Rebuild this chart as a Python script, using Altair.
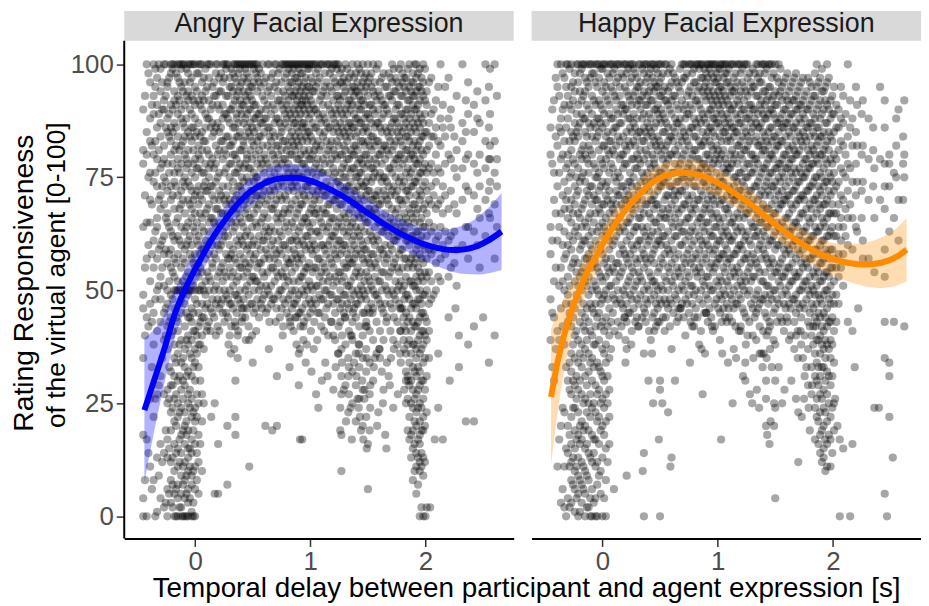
import altair as alt
import pandas as pd

# ---------------- data ----------------
# Angry panel: point columns -> (delay [s], ratings)
angry_columns = [
    (-0.45, [90, 81, 78, 64, 49, 46, 35, 18, 4, 0]),
    (-0.42, [100, 85, 80, 65, 57, 44, 17, 0]),
    (-0.39, [96, 88, 83, 76, 70, 65, 52, 47, 26, 11]),
    (-0.36, [100, 93, 89, 80, 74, 61, 55, 45, 38, 22, 8]),
    (-0.33, [97, 91, 86, 79, 73, 66, 64, 57, 50, 41, 27, 13, 1]),
    (-0.30, [99, 94, 87, 84, 77, 71, 68, 60, 53, 48, 43, 31, 16, 4]),
    (-0.27, [100, 92, 90, 82, 79, 75, 69, 62, 58, 51, 45, 39, 27, 14, 2]),
    (-0.24, [96, 95, 88, 85, 78, 72, 67, 65, 56, 50, 47, 42, 37, 28, 25, 17, 13, 6, 0]),
    (-0.21, [100, 98, 91, 86, 83, 80, 73, 70, 63, 59, 55, 49, 44, 40, 32, 29, 23, 19, 12, 8, 3]),
    (-0.18, [100, 94, 92, 87, 81, 76, 74, 68, 61, 57, 53, 50, 46, 38, 35, 31, 26, 21, 16, 10, 5, 0]),
    (-0.15, [100, 97, 93, 89, 84, 79, 77, 71, 66, 62, 58, 52, 50, 43, 41, 36, 30, 25, 22, 15, 11, 7, 4, 0]),
    (-0.12, [100, 99, 95, 90, 88, 82, 78, 72, 69, 64, 60, 55, 50, 48, 45, 39, 34, 28, 24, 18, 14, 9, 5, 2, 0]),
    (-0.09, [100, 96, 91, 86, 84, 80, 75, 73, 67, 63, 59, 56, 51, 50, 47, 42, 37, 33, 29, 23, 20, 16, 12, 8, 4, 0]),
    (-0.06, [100, 98, 94, 92, 85, 81, 78, 74, 70, 65, 61, 54, 50, 49, 44, 40, 38, 32, 27, 25, 19, 15, 13, 10, 6, 3, 0]),
    (-0.03, [100, 97, 93, 89, 86, 83, 76, 72, 68, 66, 60, 57, 52, 50, 46, 43, 39, 35, 31, 26, 22, 17, 14, 9, 7, 1, 0]),
    (0.00, [100, 95, 91, 88, 84, 79, 75, 71, 67, 63, 58, 55, 50, 48, 41, 37, 34, 30, 24, 21, 16, 11, 6, 0]),
    (0.03, [100, 98, 92, 87, 82, 80, 77, 73, 69, 62, 60, 56, 53, 50, 45, 42, 38, 33, 25, 18, 12, 5]),
    (0.06, [100, 96, 93, 90, 85, 81, 76, 70, 66, 64, 59, 54, 51, 47, 44, 40, 27, 21, 10]),
    (0.09, [99, 94, 89, 86, 83, 78, 74, 72, 67, 61, 57, 52, 49, 46]),
    (0.12, [100, 97, 92, 88, 80, 77, 75, 69, 65, 63, 58, 53, 50]),
    (0.15, [95, 91, 87, 84, 79, 73, 71, 66, 60, 56, 55, 48, 45]),
    (0.18, [100, 98, 93, 86, 82, 78, 74, 68, 64, 62, 57, 51, 47]),
    (0.21, [97, 94, 90, 85, 81, 76, 72, 70, 65, 59, 54, 50, 46]),
    (0.24, [100, 96, 91, 88, 83, 79, 73, 67, 63, 61, 56, 52, 48]),
    (0.27, [100, 99, 93, 89, 84, 80, 77, 71, 69, 64, 58, 53, 49, 45]),
    (0.30, [97, 95, 90, 87, 82, 78, 75, 70, 66, 60, 57, 55, 50, 47]),
    (0.33, [100, 98, 94, 91, 86, 83, 80, 74, 72, 68, 63, 59, 54, 51, 46]),
    (0.36, [100, 96, 93, 89, 88, 84, 79, 76, 71, 67, 65, 61, 56, 52, 49, 45]),
    (0.39, [100, 99, 95, 92, 90, 85, 81, 78, 73, 70, 66, 62, 58, 55, 50, 47]),
    (0.42, [100, 97, 94, 91, 87, 83, 82, 77, 74, 69, 64, 60, 57, 53, 48, 46]),
    (0.45, [100, 98, 96, 92, 89, 86, 80, 79, 75, 71, 68, 63, 59, 54, 51, 46]),
    (0.48, [100, 95, 93, 90, 87, 84, 81, 77, 72, 70, 66, 62, 58, 56, 52, 47]),
    (0.51, [100, 99, 96, 91, 88, 85, 82, 76, 74, 69, 67, 61, 57, 53, 50, 45]),
    (0.54, [100, 97, 94, 89, 86, 83, 78, 75, 71, 68, 64, 60, 55, 52, 48]),
    (0.57, [98, 95, 90, 87, 84, 79, 77, 73, 70, 65, 59, 56, 51, 47]),
    (0.60, [96, 92, 88, 85, 80, 76, 72, 67, 63, 61, 57, 53, 49]),
    (0.63, [100, 94, 91, 86, 82, 78, 74, 70, 66, 62, 58, 54, 50, 46]),
    (0.66, [97, 93, 89, 83, 81, 75, 71, 68, 64, 60, 55, 51, 47]),
    (0.69, [100, 95, 90, 87, 84, 79, 76, 72, 69, 63, 59, 57, 52, 48]),
    (0.72, [98, 94, 92, 88, 82, 80, 77, 73, 67, 65, 61, 56, 53, 49]),
    (0.75, [100, 96, 91, 86, 85, 81, 78, 74, 70, 66, 62, 58, 54, 50, 46]),
    (0.78, [100, 97, 93, 89, 87, 83, 79, 75, 71, 68, 64, 60, 55, 51, 47]),
    (0.81, [100, 99, 95, 92, 90, 86, 82, 78, 76, 72, 67, 63, 59, 56, 52, 48]),
    (0.84, [100, 98, 96, 93, 88, 85, 83, 80, 75, 73, 69, 65, 61, 57, 54, 50, 46]),
    (0.87, [100, 97, 94, 91, 89, 87, 84, 81, 77, 74, 70, 66, 62, 58, 55, 50, 47]),
    (0.90, [100, 99, 96, 93, 90, 88, 85, 82, 79, 76, 71, 68, 63, 60, 56, 52, 49, 45]),
    (0.93, [100, 98, 95, 92, 91, 87, 86, 83, 78, 75, 72, 69, 65, 61, 57, 53, 50, 46]),
    (0.96, [100, 97, 94, 92, 89, 86, 84, 80, 77, 73, 70, 66, 62, 59, 55, 51, 47]),
    (0.99, [100, 99, 95, 93, 90, 88, 85, 81, 79, 74, 71, 67, 64, 60, 56, 52, 48]),
    (1.02, [100, 96, 94, 91, 87, 83, 80, 76, 72, 69, 65, 61, 58, 54, 50, 46]),
    (1.05, [100, 98, 95, 90, 86, 82, 78, 75, 71, 67, 63, 59, 55, 51, 47]),
    (1.08, [100, 97, 92, 88, 85, 81, 77, 73, 70, 66, 62, 57, 53, 49, 45]),
    (1.11, [100, 94, 91, 89, 84, 79, 76, 72, 68, 64, 60, 56, 52, 48]),
    (1.14, [100, 96, 93, 87, 83, 80, 74, 71, 67, 63, 58, 54, 50, 46]),
    (1.17, [100, 98, 95, 90, 86, 82, 78, 73, 69, 65, 61, 57, 53, 49]),
    (1.20, [100, 97, 92, 88, 85, 81, 77, 75, 70, 66, 62, 59, 55, 51, 47]),
    (1.23, [100, 99, 95, 93, 89, 86, 83, 79, 74, 71, 68, 64, 60, 57, 52, 48]),
    (1.26, [98, 96, 92, 90, 87, 84, 80, 76, 73, 69, 66, 61, 58, 54, 50, 46]),
    (1.29, [97, 95, 93, 88, 85, 82, 78, 75, 72, 67, 63, 60, 56, 53, 49, 45]),
    (1.32, [99, 96, 91, 89, 86, 83, 79, 77, 73, 70, 65, 62, 58, 55, 51, 47]),
    (1.35, [98, 94, 92, 90, 87, 84, 81, 76, 74, 71, 68, 64, 59, 56, 52, 48]),
    (1.38, [97, 95, 93, 89, 86, 82, 80, 77, 72, 69, 66, 62, 60, 57, 53, 49, 46]),
    (1.41, [100, 96, 94, 91, 88, 85, 81, 78, 75, 73, 70, 67, 63, 59, 55, 50, 47]),
    (1.44, [98, 95, 92, 90, 87, 83, 79, 76, 74, 71, 68, 64, 61, 58, 54, 51, 48]),
    (1.47, [97, 94, 91, 88, 86, 82, 80, 77, 73, 70, 66, 63, 59, 56, 52, 49, 45]),
    (1.50, [100, 96, 93, 89, 85, 83, 78, 75, 72, 68, 65, 61, 57, 53, 50, 46]),
    (1.53, [98, 95, 91, 87, 84, 81, 77, 74, 70, 67, 62, 58, 55, 51, 47]),
    (1.56, [96, 93, 89, 86, 82, 79, 76, 71, 68, 64, 60, 56, 53, 49]),
    (1.59, [100, 94, 90, 87, 83, 80, 75, 72, 69, 65, 61, 57, 52, 48]),
    (1.62, [97, 92, 88, 85, 81, 78, 74, 70, 66, 63, 59, 54, 50, 46]),
    (1.65, [95, 91, 86, 82, 79, 75, 71, 67, 64, 60, 56, 51, 47]),
    (1.68, [98, 93, 89, 84, 80, 77, 73, 69, 65, 62, 58, 53, 49]),
    (1.71, [100, 96, 92, 87, 85, 81, 76, 72, 68, 63, 59, 55, 50, 46]),
    (1.74, [97, 94, 90, 88, 83, 79, 75, 71, 67, 64, 61, 57, 52, 48]),
    (1.77, [99, 95, 91, 86, 84, 80, 77, 74, 70, 66, 62, 58, 54, 51, 47]),
    (1.80, [98, 96, 93, 89, 85, 82, 78, 73, 69, 65, 63, 59, 55, 50, 46]),
    (1.83, [97, 94, 90, 87, 84, 81, 76, 72, 70, 66, 61, 57, 53, 49, 45, 41, 36, 30, 25]),
    (1.86, [100, 95, 92, 88, 86, 83, 79, 75, 71, 68, 64, 60, 56, 52, 48, 44, 39, 34, 29, 22, 17]),
    (1.89, [98, 96, 93, 91, 87, 82, 80, 77, 73, 69, 66, 62, 58, 55, 51, 47, 43, 38, 33, 28, 24, 19, 15, 8]),
    (1.92, [100, 97, 94, 90, 88, 85, 81, 78, 74, 71, 67, 63, 59, 57, 53, 50, 46, 42, 37, 35, 31, 27, 23, 20, 14, 11, 5]),
    (1.95, [99, 95, 92, 89, 86, 83, 79, 76, 72, 70, 65, 61, 58, 54, 50, 48, 44, 40, 36, 32, 29, 25, 21, 18, 16, 12, 10, 0]),
    (1.98, [100, 96, 93, 87, 84, 80, 77, 73, 68, 64, 60, 56, 52, 49, 45, 41, 38, 34, 30, 26, 22, 19, 13, 9, 0]),
    (2.01, [94, 91, 85, 81, 76, 72, 67, 62, 57, 53, 50, 43, 39, 31, 23, 2]),
    (2.05, [97, 89, 84, 78, 73, 69, 63, 58, 52, 48]),
    (2.09, [92, 86, 80, 74, 68, 61, 56, 50]),
    (2.13, [100, 88, 82, 76, 70, 64, 57, 52]),
    (2.17, [95, 84, 78, 71, 63, 58]),
    (2.22, [90, 86, 79, 72, 62, 55]),
    (2.27, [93, 81, 75, 67, 59, 51]),
    (2.32, [100, 87, 83, 77, 70, 60]),
    (2.37, [96, 89, 80, 72, 64, 57]),
    (2.42, [91, 85, 78, 71, 63]),
    (2.47, [87, 80, 73, 66, 55]),
    (2.52, [100, 92, 83, 77, 70, 62]),
    (2.56, [99, 89, 82, 79, 74, 66]),
    (2.60, [100, 83, 76, 69, 57]),
]
# Angry panel: points lying between the columns above
angry_fill = [
    (-0.435, [93, 71, 55, 40, 8]),
    (-0.405, [98, 75, 60, 42, 14]),
    (-0.375, [91, 82, 69, 58, 43, 33, 6]),
    (-0.345, [99, 95, 83, 76, 63, 48, 26, 0]),
    (-0.315, [100, 89, 81, 70, 59, 51, 29, 9]),
    (-0.285, [96, 90, 78, 73, 61, 55, 35, 12]),
    (-0.255, [100, 93, 86, 74, 66, 59, 46, 40, 19, 3]),
    (-0.225, [97, 89, 84, 76, 64, 58, 52, 43, 33, 26, 15, 5]),
    (-0.195, [100, 99, 90, 85, 78, 71, 62, 54, 48, 41, 29, 24, 13, 7, 2]),
    (-0.165, [98, 91, 86, 82, 73, 65, 56, 50, 44, 34, 27, 20, 14, 6, 0]),
    (-0.135, [100, 96, 92, 81, 76, 68, 61, 50, 47, 38, 31, 23, 17, 12, 2]),
    (-0.105, [100, 94, 87, 83, 74, 70, 57, 52, 49, 35, 30, 26, 19, 11, 7, 0]),
    (-0.075, [99, 93, 88, 79, 77, 64, 60, 53, 50, 45, 39, 31, 21, 18, 9, 5, 0]),
    (-0.045, [100, 96, 90, 84, 73, 69, 62, 58, 50, 44, 36, 28, 24, 15, 11, 4]),
    (-0.015, [100, 92, 86, 81, 78, 70, 64, 56, 51, 45, 41, 33, 23, 19, 10, 3, 0]),
    (0.015, [98, 94, 85, 77, 72, 65, 61, 54, 47, 40, 36, 27, 22, 14, 8]),
    (0.045, [100, 91, 84, 79, 71, 67, 58, 55, 50, 43, 38, 30, 16]),
    (0.075, [97, 92, 83, 76, 73, 63, 59, 50, 44, 37, 25]),
    (0.105, [100, 95, 88, 81, 72, 68, 60, 54, 47, 42]),
    (0.135, [100, 90, 86, 78, 73, 66, 61, 52, 46, 41]),
    (0.165, [96, 93, 85, 77, 70, 65, 58, 50, 44]),
    (0.195, [100, 91, 87, 80, 75, 68, 60, 53, 48, 42]),
    (0.225, [98, 94, 86, 83, 71, 67, 60, 55, 47]),
    (0.255, [100, 97, 89, 81, 76, 70, 62, 54, 50, 43]),
    (0.285, [100, 93, 88, 84, 73, 67, 62, 57, 48, 44]),
    (0.315, [99, 95, 90, 82, 78, 69, 65, 58, 53, 47, 42]),
    (0.345, [100, 97, 92, 86, 80, 76, 70, 64, 57, 49, 43]),
    (0.375, [100, 98, 94, 87, 84, 77, 73, 68, 60, 53, 48, 41]),
    (0.405, [100, 96, 91, 89, 81, 75, 72, 65, 61, 55, 46, 43]),
    (0.435, [100, 99, 93, 88, 84, 78, 70, 67, 62, 56, 50, 44]),
    (0.465, [100, 97, 94, 90, 85, 77, 74, 66, 60, 55, 49, 42]),
    (0.495, [100, 95, 92, 86, 83, 79, 72, 64, 60, 53, 47, 40]),
    (0.525, [100, 98, 91, 88, 80, 75, 71, 65, 58, 52, 46]),
    (0.555, [99, 96, 89, 84, 81, 73, 69, 62, 56, 50, 44]),
    (0.585, [100, 93, 87, 82, 78, 71, 66, 61, 54, 48]),
    (0.615, [97, 90, 88, 79, 74, 69, 64, 59, 51, 45]),
    (0.645, [100, 95, 86, 84, 77, 72, 63, 57, 49, 43]),
    (0.675, [98, 91, 85, 80, 73, 68, 61, 55, 48]),
    (0.705, [100, 96, 88, 82, 78, 70, 66, 58, 54, 46]),
    (0.735, [99, 92, 87, 84, 75, 71, 63, 59, 50, 44]),
    (0.765, [100, 94, 90, 83, 79, 73, 67, 60, 53, 48, 42]),
    (0.795, [100, 98, 91, 88, 81, 77, 70, 65, 57, 53, 45]),
    (0.825, [100, 96, 94, 89, 84, 80, 74, 68, 61, 56, 49, 43]),
    (0.855, [100, 99, 93, 90, 87, 82, 76, 72, 64, 59, 52, 47, 41]),
    (0.885, [100, 97, 95, 92, 86, 83, 79, 73, 67, 61, 57, 48, 44]),
    (0.915, [100, 98, 94, 91, 89, 84, 80, 75, 69, 64, 58, 53, 45, 42]),
    (0.945, [100, 96, 93, 90, 87, 81, 78, 71, 66, 60, 54, 49, 43]),
    (0.975, [100, 99, 95, 91, 85, 83, 76, 73, 65, 62, 55, 50, 44]),
    (1.005, [100, 97, 92, 89, 84, 79, 74, 68, 63, 59, 51, 47, 41]),
    (1.035, [100, 94, 90, 86, 81, 77, 70, 67, 60, 55, 48, 43]),
    (1.065, [99, 96, 89, 83, 79, 72, 68, 63, 57, 51, 45]),
    (1.095, [100, 93, 87, 82, 76, 73, 65, 60, 54, 48, 42]),
    (1.125, [98, 95, 88, 85, 78, 71, 67, 59, 55, 50, 44]),
    (1.155, [100, 91, 86, 81, 76, 69, 64, 60, 52, 47, 40]),
    (1.185, [99, 94, 89, 83, 79, 72, 66, 62, 56, 49, 43]),
    (1.215, [100, 96, 90, 87, 80, 76, 70, 63, 58, 53, 45, 39]),
    (1.245, [100, 93, 91, 85, 82, 74, 71, 65, 61, 54, 48, 42, 36]),
    (1.275, [99, 96, 89, 86, 80, 77, 69, 64, 59, 52, 47, 40, 34]),
    (1.305, [100, 94, 90, 84, 81, 75, 72, 66, 60, 55, 49, 44, 38, 29]),
    (1.335, [97, 92, 87, 85, 79, 73, 67, 63, 57, 51, 46, 41, 33, 27]),
    (1.365, [100, 95, 91, 86, 80, 77, 70, 65, 61, 56, 50, 43, 39, 32, 25]),
    (1.395, [98, 94, 88, 84, 82, 75, 72, 64, 58, 54, 47, 44, 36, 29, 21]),
    (1.425, [99, 93, 90, 87, 79, 76, 69, 66, 62, 53, 49, 42, 38, 33, 26]),
    (1.455, [100, 96, 92, 85, 83, 78, 73, 67, 60, 57, 50, 45, 40, 35, 28, 20]),
    (1.485, [98, 95, 89, 86, 80, 74, 71, 65, 59, 54, 48, 43, 37, 32, 22]),
    (1.515, [97, 91, 88, 82, 79, 72, 68, 63, 56, 52, 45, 41, 34, 27, 19]),
    (1.545, [100, 94, 90, 84, 77, 75, 70, 61, 58, 50, 46, 39, 30]),
    (1.575, [99, 92, 87, 83, 78, 71, 67, 62, 55, 49, 43, 36]),
    (1.605, [96, 93, 86, 80, 76, 69, 65, 59, 52, 47, 41, 35]),
    (1.635, [98, 91, 89, 82, 75, 72, 63, 58, 54, 45, 39, 28]),
    (1.665, [95, 90, 85, 81, 74, 70, 64, 57, 50, 44, 34]),
    (1.695, [97, 93, 86, 83, 77, 71, 66, 60, 54, 47, 41]),
    (1.725, [99, 94, 88, 82, 78, 73, 65, 61, 56, 49, 44, 37]),
    (1.755, [96, 91, 87, 85, 79, 72, 68, 62, 55, 50, 43, 38]),
    (1.785, [100, 93, 89, 83, 80, 75, 70, 64, 59, 52, 46, 41, 34]),
    (1.815, [97, 95, 88, 86, 79, 74, 67, 63, 57, 51, 48, 42, 37, 28]),
    (1.845, [99, 92, 90, 84, 81, 77, 72, 65, 61, 55, 49, 43, 38, 31, 26, 19]),
    (1.875, [96, 94, 89, 85, 80, 76, 73, 67, 62, 57, 52, 46, 41, 36, 30, 25, 18, 13]),
    (1.905, [100, 93, 90, 86, 83, 79, 74, 69, 65, 61, 56, 51, 47, 42, 38, 32, 26, 21, 16, 10]),
    (1.935, [98, 95, 91, 87, 82, 78, 75, 68, 63, 60, 55, 52, 48, 43, 39, 33, 28, 24, 17, 13, 7]),
    (1.965, [97, 94, 88, 84, 81, 76, 71, 66, 62, 57, 53, 47, 45, 41, 37, 30, 24, 19, 14, 11, 2]),
    (1.995, [99, 92, 89, 85, 78, 74, 69, 64, 59, 54, 49, 44, 40, 35, 28, 20, 12]),
    (2.03, [96, 87, 82, 77, 70, 65, 59, 54, 47, 41, 35]),
    (2.07, [90, 84, 76, 71, 64, 59, 49]),
    (2.11, [95, 83, 77, 69, 62, 53]),
    (2.15, [91, 86, 73, 67, 60]),
    (2.20, [97, 88, 80, 68, 61, 53]),
    (2.25, [84, 77, 69, 63, 56]),
    (2.35, [92, 85, 79, 73, 64]),
    (2.45, [94, 88, 76, 68, 60]),
    (2.55, [95, 86, 79, 72, 67]),
    (2.62, [93, 79, 73, 64]),
]
# Angry panel: scattered lower-rating points
angry_low_x = [0.10, 0.21, 0.30, 0.37, 0.44, 0.34, 0.31, 0.37, 0.50, 0.35, 0.28, 0.47, 0.28, 0.35, 0.35,
               0.17, 0.14, 0.20, 0.17, 0.20, 0.61, 0.67, 0.71, 0.71, 0.83, 0.87, 0.94, 0.91, 0.90, 0.96,
               1.03, 1.01, 1.10, 1.07, 0.91, 0.93, 1.13, 1.20, 1.26, 1.27, 1.33, 1.27, 1.33, 1.40, 1.45,
               1.47, 1.47, 1.42, 1.52, 1.35, 1.26, 1.20, 1.27, 1.33, 1.43, 1.59, 1.26, 1.27, 1.36, 1.46,
               1.49, 1.50, 1.65, 1.66, 1.27, 1.50, 1.42, 1.35, 1.37, 1.49, 1.49, 1.55, 1.62, 1.60, 1.69,
               1.70, 1.78, 1.81, 1.83, 1.85, 1.78, 1.81, 2.11, 2.11, 2.08, 2.15, 2.21, 2.26, 2.29, 2.37,
               2.29, 2.35, 2.42, 2.55, 2.04, 2.00, 2.42, 2.50, 2.20, 2.60,
               0.12, 0.18, 0.24, 0.29, 0.35, 0.41, 0.47, 0.53, 0.58, 0.64, 0.70, 0.76, 0.82, 0.88, 0.94,
               1.00, 1.06, 1.12, 1.18, 1.24, 1.30, 1.36, 1.42, 1.48, 1.54, 1.60, 1.66, 1.72, 1.78,
               0.82, 0.90, 0.97, 1.05, 1.15, 1.22, 1.29, 1.31, 1.38, 1.41, 1.44, 1.52, 1.56, 1.58, 1.63,
               1.68, 1.72, 1.76]
angry_low_y = [41, 41, 40, 40, 39, 37, 36, 35, 34, 30, 7, 11, 20, 18, 22,
               25, 22, 16, 5, 5, 20, 19, 20, 31, 42, 44, 39, 37, 36, 34,
               37, 32, 30, 24, 17, 17, 34, 40, 43, 37, 35, 31, 31, 31, 30,
               28, 26, 24, 24, 24, 24, 28, 27, 23, 22, 23, 19, 18, 17, 17,
               15, 16, 18, 15, 10, 6, 36, 40, 45, 42, 35, 33, 32, 37, 29,
               35, 36, 39, 32, 30, 46, 44, 36, 24, 17, 17, 30, 46, 40, 38,
               33, 21, 21, 34, 2, 0, 42, 44, 44, 40,
               43, 40, 45, 38, 42, 44, 39, 41, 46, 37, 43, 40, 44, 38, 42,
               45, 39, 41, 43, 36, 44, 40, 38, 42, 45, 37, 43, 39, 41,
               33, 29, 38, 27, 31, 33, 28, 21, 34, 26, 19, 29, 35, 20, 25,
               31, 24, 27]

# Happy panel: point columns -> (delay [s], ratings)
happy_columns = [
    (-0.45, [86, 80, 64, 58, 48, 39]),
    (-0.42, [92, 76, 70, 52, 44, 30]),
    (-0.39, [100, 95, 82, 73, 61, 41, 11]),
    (-0.36, [100, 88, 85, 79, 67, 55, 46, 20, 3]),
    (-0.33, [97, 91, 83, 74, 68, 63, 57, 50, 38, 23, 11, 2]),
    (-0.30, [100, 93, 88, 80, 78, 72, 66, 60, 53, 49, 43, 30, 20, 14, 4]),
    (-0.27, [100, 95, 90, 85, 81, 76, 70, 65, 59, 55, 47, 42, 36, 32, 27, 22, 16, 12, 8, 3]),
    (-0.24, [98, 94, 87, 83, 78, 73, 69, 63, 57, 52, 46, 40, 35, 29, 24, 19, 15, 10, 6, 1]),
    (-0.21, [100, 96, 91, 86, 84, 77, 72, 67, 62, 56, 51, 48, 39, 34, 28, 23, 18, 13, 9, 5, 0]),
    (-0.18, [100, 99, 92, 89, 81, 79, 75, 68, 64, 60, 54, 50, 45, 38, 33, 27, 21, 17, 12, 7, 3]),
    (-0.15, [100, 97, 94, 88, 85, 80, 74, 70, 65, 61, 57, 52, 44, 41, 37, 31, 26, 20, 15, 10, 5, 0]),
    (-0.12, [100, 95, 90, 87, 82, 78, 76, 71, 66, 62, 58, 53, 49, 43, 36, 32, 25, 19, 14, 8, 2]),
    (-0.09, [100, 98, 93, 89, 84, 80, 73, 69, 63, 59, 55, 50, 46, 40, 35, 30, 24, 18, 12, 6, 0]),
    (-0.06, [100, 96, 91, 86, 83, 77, 75, 70, 67, 61, 56, 51, 47, 42, 38, 29, 23, 17, 11, 4, 0]),
    (-0.03, [100, 97, 92, 88, 85, 81, 76, 72, 68, 64, 60, 54, 49, 45, 39, 33, 28, 22, 16, 9]),
    (0.00, [100, 99, 94, 90, 86, 82, 78, 74, 69, 65, 62, 58, 52, 48, 43, 37, 31, 26, 20, 13, 0]),
    (0.03, [100, 95, 93, 87, 84, 79, 73, 71, 66, 63, 57, 53, 50, 44, 38, 34, 27, 21, 15, 8, 0]),
    (0.06, [100, 97, 91, 89, 83, 80, 76, 72, 67, 61, 59, 54, 51, 46, 40, 35, 28, 22, 16]),
    (0.09, [100, 98, 94, 88, 85, 81, 77, 70, 68, 64, 60, 55, 49, 45]),
    (0.12, [100, 96, 92, 90, 86, 82, 74, 72, 69, 65, 62, 56, 52, 47]),
    (0.15, [100, 95, 93, 87, 83, 79, 75, 71, 66, 63, 58, 53, 48]),
    (0.18, [100, 97, 91, 89, 84, 80, 77, 73, 68, 64, 59, 55, 50, 46]),
    (0.21, [100, 98, 94, 90, 85, 81, 78, 72, 70, 65, 61, 57, 51, 47]),
    (0.24, [100, 96, 92, 88, 86, 82, 76, 74, 69, 66, 62, 58, 53, 49, 45]),
    (0.27, [100, 99, 93, 89, 87, 83, 79, 75, 71, 67, 63, 59, 54, 50, 46]),
    (0.30, [97, 95, 91, 88, 84, 80, 77, 73, 70, 64, 60, 56, 52, 48]),
    (0.33, [100, 96, 92, 90, 85, 81, 78, 74, 68, 66, 61, 57, 53, 49]),
    (0.36, [100, 98, 94, 89, 86, 83, 79, 75, 72, 67, 63, 58, 55, 50, 46]),
    (0.39, [100, 97, 93, 91, 87, 84, 80, 76, 73, 69, 64, 60, 56, 51, 47]),
    (0.42, [100, 99, 95, 92, 88, 85, 82, 77, 74, 70, 66, 62, 57, 53, 48]),
    (0.45, [100, 96, 94, 90, 86, 83, 79, 78, 71, 68, 65, 59, 56, 52, 49, 45]),
    (0.48, [100, 98, 95, 91, 89, 84, 81, 75, 72, 69, 63, 61, 54, 50, 46]),
    (0.51, [100, 97, 93, 90, 87, 82, 80, 76, 73, 67, 64, 60, 57, 51, 47]),
    (0.54, [100, 95, 92, 88, 85, 81, 77, 74, 70, 66, 62, 58, 53, 48]),
    (0.57, [98, 94, 91, 86, 83, 79, 75, 71, 68, 63, 59, 55, 50, 46]),
    (0.60, [100, 96, 92, 89, 84, 80, 76, 73, 69, 65, 61, 56, 52, 47]),
    (0.63, [97, 93, 88, 85, 81, 78, 72, 70, 66, 62, 57, 53, 49]),
    (0.66, [95, 90, 87, 82, 77, 74, 71, 67, 64, 58, 54, 50, 46]),
    (0.69, [100, 96, 92, 86, 83, 79, 75, 72, 68, 63, 60, 55, 51, 47]),
    (0.72, [100, 97, 91, 88, 84, 81, 76, 73, 69, 65, 61, 56, 52, 48]),
    (0.75, [100, 94, 89, 85, 82, 78, 74, 70, 66, 62, 59, 53, 49, 45]),
    (0.78, [100, 98, 93, 90, 86, 80, 77, 71, 67, 64, 60, 57, 51, 47]),
    (0.81, [100, 96, 92, 87, 84, 81, 75, 73, 68, 63, 58, 54, 50, 46]),
    (0.84, [100, 99, 95, 91, 88, 83, 79, 76, 70, 66, 62, 59, 55, 48]),
    (0.87, [100, 97, 94, 89, 85, 82, 78, 74, 71, 67, 64, 60, 56, 52, 47]),
    (0.90, [100, 98, 96, 92, 87, 84, 80, 77, 73, 69, 65, 61, 57, 53, 49, 45]),
    (0.93, [100, 99, 95, 93, 90, 86, 83, 79, 75, 72, 68, 63, 59, 55, 51, 46]),
    (0.96, [100, 97, 94, 91, 88, 85, 81, 78, 74, 70, 66, 62, 58, 54, 50]),
    (0.99, [100, 98, 96, 92, 89, 87, 82, 80, 76, 71, 67, 64, 60, 56, 52, 48]),
    (1.02, [100, 99, 95, 93, 90, 86, 84, 79, 75, 73, 69, 65, 61, 57, 53, 49, 45]),
    (1.05, [100, 97, 94, 91, 88, 85, 81, 77, 74, 70, 66, 62, 58, 55, 50, 46]),
    (1.08, [100, 98, 96, 92, 89, 86, 83, 78, 76, 71, 68, 63, 59, 56, 52, 47]),
    (1.11, [100, 95, 93, 90, 87, 83, 80, 77, 72, 69, 65, 61, 57, 53, 49]),
    (1.14, [100, 97, 94, 91, 86, 84, 79, 75, 73, 70, 66, 62, 58, 54, 50, 46]),
    (1.17, [100, 96, 92, 88, 85, 82, 78, 74, 71, 67, 63, 59, 55, 51, 47]),
    (1.20, [100, 98, 94, 89, 87, 83, 80, 76, 72, 68, 64, 60, 56, 52, 48]),
    (1.23, [100, 95, 92, 90, 86, 81, 77, 73, 70, 66, 61, 57, 53, 50, 45]),
    (1.26, [100, 97, 93, 88, 84, 82, 78, 75, 71, 67, 63, 58, 54, 49]),
    (1.29, [96, 94, 91, 87, 85, 80, 76, 72, 69, 65, 60, 56, 52, 47]),
    (1.32, [98, 95, 90, 88, 83, 79, 77, 73, 68, 64, 62, 57, 53, 48]),
    (1.35, [100, 97, 93, 89, 86, 82, 78, 74, 70, 67, 63, 59, 55, 50, 46]),
    (1.38, [100, 96, 92, 90, 87, 83, 80, 76, 72, 68, 65, 61, 57, 52, 48]),
    (1.41, [100, 98, 94, 91, 88, 84, 81, 77, 73, 71, 66, 62, 58, 54, 49, 45]),
    (1.44, [100, 95, 93, 89, 85, 82, 79, 75, 72, 68, 64, 60, 56, 51, 47]),
    (1.47, [100, 97, 92, 90, 86, 83, 80, 76, 73, 69, 65, 61, 57, 53, 48]),
    (1.50, [100, 94, 91, 88, 84, 81, 77, 74, 70, 67, 63, 59, 54, 50, 46]),
    (1.53, [100, 96, 93, 87, 85, 82, 78, 75, 71, 68, 64, 60, 55, 52, 47]),
    (1.56, [95, 92, 89, 86, 83, 79, 76, 72, 69, 65, 61, 57, 53, 49]),
    (1.59, [97, 93, 90, 87, 84, 80, 77, 73, 70, 66, 62, 58, 54, 50, 46]),
    (1.62, [94, 91, 88, 85, 81, 78, 74, 71, 67, 63, 59, 55, 51, 47]),
    (1.65, [96, 92, 89, 86, 82, 79, 75, 72, 68, 64, 60, 56, 52, 48]),
    (1.68, [98, 93, 90, 87, 83, 80, 76, 73, 69, 65, 61, 57, 53, 49, 45]),
    (1.71, [95, 91, 88, 84, 81, 77, 74, 70, 66, 62, 58, 54, 50, 46]),
    (1.74, [97, 92, 89, 85, 82, 78, 75, 71, 67, 63, 59, 55, 51, 47]),
    (1.77, [94, 90, 86, 83, 79, 76, 72, 68, 64, 60, 56, 52, 48]),
    (1.80, [96, 91, 87, 84, 80, 77, 73, 69, 65, 61, 57, 53, 49, 45]),
    (1.83, [93, 89, 85, 81, 78, 74, 70, 66, 62, 58, 54, 50, 46, 42, 38]),
    (1.86, [100, 95, 90, 86, 82, 79, 75, 71, 67, 63, 59, 55, 51, 47, 43, 39, 34, 30, 26, 22]),
    (1.89, [97, 92, 88, 84, 80, 76, 72, 68, 64, 60, 56, 52, 48, 44, 40, 36, 31, 27, 23, 18, 14]),
    (1.92, [94, 90, 85, 81, 77, 73, 69, 65, 61, 57, 53, 49, 45, 41, 37, 33, 28, 24, 20, 15, 13]),
    (1.95, [100, 96, 91, 87, 83, 78, 74, 70, 66, 62, 58, 54, 50, 46, 42, 38, 32, 27, 21, 16, 11]),
    (1.98, [92, 88, 84, 79, 75, 71, 67, 63, 59, 55, 51, 47, 43, 39, 35, 29, 22, 17, 11]),
    (2.01, [95, 89, 85, 80, 76, 72, 67, 62, 57, 52, 47, 41, 34, 25, 19]),
    (2.05, [90, 86, 81, 74, 69, 64, 58, 53, 47]),
    (2.09, [93, 87, 82, 76, 70, 64, 58, 51]),
    (2.13, [100, 84, 78, 72, 66, 60]),
    (2.17, [88, 82, 74, 66, 59]),
    (2.21, [91, 82, 74, 63]),
    (2.26, [92, 82, 74, 61, 57]),
    (2.31, [88, 79, 70, 57]),
    (2.36, [77, 66, 54]),
    (2.41, [95, 79, 70]),
    (2.45, [86, 73, 53]),
    (2.49, [80, 78, 73, 63]),
    (2.53, [76, 66]),
    (2.57, [90, 70, 61]),
    (2.61, [84, 78, 70]),
]
# Happy panel: points lying between the columns above
happy_fill = [
    (-0.435, [90, 78, 61, 45, 33]),
    (-0.405, [97, 84, 67, 55, 37]),
    (-0.375, [93, 86, 76, 64, 51, 39, 17]),
    (-0.345, [98, 90, 80, 71, 60, 52, 42, 24, 6]),
    (-0.315, [100, 95, 86, 77, 70, 58, 47, 33, 15, 0]),
    (-0.285, [99, 91, 83, 75, 68, 62, 51, 45, 34, 28, 18, 11, 2]),
    (-0.255, [96, 92, 84, 79, 67, 61, 56, 44, 38, 30, 24, 13, 7]),
    (-0.225, [100, 89, 85, 75, 71, 64, 54, 49, 41, 31, 26, 17, 11, 4]),
    (-0.195, [98, 94, 87, 80, 74, 66, 59, 53, 43, 36, 30, 20, 16, 8, 1]),
    (-0.165, [100, 93, 88, 82, 76, 69, 61, 55, 47, 42, 35, 25, 19, 11, 6]),
    (-0.135, [96, 91, 84, 79, 72, 64, 57, 51, 46, 39, 29, 23, 16, 9, 2]),
    (-0.105, [100, 97, 86, 81, 73, 67, 60, 56, 47, 41, 34, 27, 22, 13, 4, 0]),
    (-0.075, [98, 92, 87, 78, 71, 65, 57, 52, 45, 38, 33, 25, 17, 14, 3]),
    (-0.045, [100, 95, 88, 84, 75, 70, 63, 55, 50, 44, 34, 27, 21, 12, 7, 0]),
    (-0.015, [99, 91, 87, 79, 73, 67, 59, 53, 47, 42, 32, 25, 19, 10, 5]),
    (0.015, [100, 96, 89, 82, 77, 69, 64, 56, 49, 41, 36, 30, 24, 18, 4]),
    (0.045, [98, 92, 85, 81, 74, 70, 62, 55, 48, 42, 31, 25, 12]),
    (0.075, [100, 95, 88, 83, 78, 69, 65, 57, 51, 43, 37]),
    (0.105, [99, 93, 86, 80, 75, 67, 61, 54, 48, 41]),
    (0.135, [100, 97, 89, 84, 76, 71, 64, 56, 50, 43]),
    (0.165, [98, 91, 87, 80, 73, 69, 60, 54, 47, 42]),
    (0.195, [100, 95, 90, 82, 78, 70, 63, 58, 49, 44]),
    (0.225, [99, 93, 88, 83, 74, 71, 65, 56, 52, 45]),
    (0.255, [100, 97, 91, 85, 79, 73, 68, 60, 55, 48, 41]),
    (0.285, [98, 94, 86, 82, 77, 69, 64, 57, 51, 43]),
    (0.315, [100, 95, 92, 85, 79, 72, 66, 61, 54, 47, 42]),
    (0.345, [99, 93, 88, 83, 76, 70, 64, 59, 52, 44]),
    (0.375, [100, 96, 91, 85, 81, 74, 69, 62, 57, 48, 43]),
    (0.405, [98, 94, 89, 86, 78, 72, 67, 61, 54, 50, 41]),
    (0.435, [100, 97, 92, 84, 80, 75, 70, 63, 58, 52, 44]),
    (0.465, [99, 95, 90, 87, 82, 77, 69, 65, 60, 51, 47, 42]),
    (0.495, [100, 96, 93, 88, 83, 76, 73, 66, 61, 55, 48, 43]),
    (0.525, [98, 94, 89, 85, 79, 74, 68, 62, 56, 50, 44]),
    (0.555, [100, 92, 87, 82, 78, 71, 66, 60, 52, 47]),
    (0.585, [99, 95, 90, 84, 80, 73, 67, 58, 54, 48, 42]),
    (0.615, [98, 93, 86, 83, 76, 71, 64, 59, 51, 45]),
    (0.645, [96, 91, 87, 80, 74, 68, 62, 55, 48, 43]),
    (0.675, [99, 94, 88, 84, 78, 72, 65, 60, 53, 46]),
    (0.705, [100, 97, 90, 85, 80, 75, 69, 63, 57, 50, 44]),
    (0.735, [98, 93, 89, 83, 77, 71, 66, 58, 54, 47]),
    (0.765, [100, 95, 91, 86, 79, 75, 68, 63, 56, 51, 43]),
    (0.795, [99, 96, 88, 84, 81, 73, 69, 61, 55, 49, 42]),
    (0.825, [100, 94, 92, 86, 79, 76, 70, 65, 57, 53, 44]),
    (0.855, [100, 97, 90, 87, 82, 77, 72, 66, 61, 54, 50, 41]),
    (0.885, [99, 95, 93, 88, 83, 78, 74, 68, 63, 58, 51, 45]),
    (0.915, [100, 97, 94, 89, 85, 80, 76, 70, 65, 60, 53, 48, 43]),
    (0.945, [100, 98, 92, 90, 86, 82, 77, 71, 67, 62, 56, 50, 44]),
    (0.975, [100, 96, 93, 88, 84, 79, 73, 69, 64, 59, 55, 47, 42]),
    (1.005, [99, 97, 94, 91, 87, 81, 78, 72, 66, 61, 57, 51, 46]),
    (1.035, [100, 95, 92, 89, 83, 80, 74, 70, 63, 58, 52, 48, 43]),
    (1.065, [100, 98, 93, 87, 85, 79, 76, 68, 64, 60, 54, 49, 44]),
    (1.095, [99, 96, 91, 88, 84, 77, 73, 67, 62, 57, 51, 46]),
    (1.125, [100, 94, 90, 86, 81, 78, 71, 65, 61, 55, 48, 43]),
    (1.155, [98, 95, 89, 85, 80, 75, 70, 64, 58, 53, 47, 42]),
    (1.185, [100, 93, 91, 87, 82, 76, 72, 66, 60, 54, 49, 41]),
    (1.215, [99, 96, 90, 84, 79, 74, 69, 63, 59, 51, 46]),
    (1.245, [100, 94, 88, 85, 81, 75, 67, 62, 57, 52, 44, 38]),
    (1.275, [98, 91, 89, 83, 78, 72, 68, 61, 55, 50, 43]),
    (1.305, [99, 95, 90, 86, 80, 76, 70, 64, 58, 53, 46, 40]),
    (1.335, [100, 93, 87, 84, 79, 73, 66, 62, 56, 49, 45, 39]),
    (1.365, [98, 96, 91, 86, 82, 75, 71, 65, 60, 54, 47, 42, 36]),
    (1.395, [100, 94, 89, 85, 81, 77, 69, 63, 59, 52, 48, 41]),
    (1.425, [99, 92, 88, 83, 78, 74, 68, 64, 57, 51, 44, 40, 35]),
    (1.455, [100, 95, 90, 86, 80, 76, 71, 66, 61, 55, 49, 42, 37]),
    (1.485, [98, 93, 89, 84, 79, 73, 67, 62, 56, 50, 45, 39]),
    (1.515, [97, 91, 87, 82, 77, 72, 65, 60, 54, 48, 43]),
    (1.545, [99, 94, 88, 83, 78, 74, 69, 63, 56, 51, 44]),
    (1.575, [96, 90, 86, 80, 75, 70, 64, 59, 53, 47, 41]),
    (1.605, [98, 92, 87, 82, 77, 71, 66, 60, 55, 49, 43]),
    (1.635, [95, 89, 84, 79, 76, 69, 63, 58, 52, 46, 40]),
    (1.665, [97, 92, 86, 81, 77, 72, 65, 61, 54, 48, 43, 37]),
    (1.695, [94, 90, 85, 80, 74, 70, 64, 59, 53, 47, 41, 35]),
    (1.725, [96, 91, 87, 83, 76, 71, 67, 61, 56, 50, 44, 38]),
    (1.755, [93, 88, 84, 79, 75, 70, 63, 57, 52, 46, 40, 31]),
    (1.785, [97, 90, 86, 81, 77, 72, 66, 61, 55, 50, 43, 37, 29]),
    (1.815, [95, 92, 87, 82, 78, 73, 68, 62, 57, 51, 47, 40, 33, 27]),
    (1.845, [98, 93, 88, 84, 80, 75, 70, 64, 59, 53, 49, 44, 36, 31, 24, 17]),
    (1.875, [96, 91, 86, 83, 78, 73, 69, 63, 58, 54, 49, 45, 39, 33, 29, 21, 16]),
    (1.905, [99, 94, 89, 84, 80, 75, 71, 66, 61, 56, 52, 47, 42, 38, 33, 26, 19, 12]),
    (1.935, [95, 92, 87, 82, 79, 74, 69, 64, 59, 54, 50, 44, 39, 35, 30, 23, 17, 10]),
    (1.965, [97, 90, 85, 81, 76, 72, 67, 62, 57, 53, 48, 43, 37, 31, 25, 18]),
    (1.995, [93, 89, 83, 78, 74, 69, 64, 59, 55, 49, 44, 38, 31, 24, 14]),
    (2.03, [91, 86, 79, 73, 67, 62, 55, 49, 43]),
    (2.07, [95, 88, 83, 77, 71, 66, 61, 55]),
    (2.11, [89, 80, 75, 68, 62]),
    (2.15, [92, 86, 77, 69]),
    (2.20, [95, 85, 78, 71, 64]),
    (2.25, [89, 80, 72, 66]),
    (2.35, [86, 81, 73]),
    (2.45, [92, 78, 68, 59]),
    (2.55, [88, 82, 75]),
    (2.62, [92, 80, 75]),
]
# Happy panel: scattered lower-rating points
happy_low_x = [0.36, 0.43, 0.20, 0.40, 0.50, 0.63, 0.50, 0.44, 0.52, 0.57, 0.36, 0.35, 0.21, 0.10, 0.36,
               0.50, 0.49, 0.60, 0.59, 0.76, 0.87, 0.86, 0.89, 1.04, 1.09, 1.13, 1.03, 1.16, 1.24, 1.31,
               1.24, 1.34, 1.42, 1.50, 1.47, 1.39, 1.42, 1.30, 1.49, 1.56, 1.50, 1.42, 1.49, 1.43, 1.45,
               1.50, 1.70, 1.73, 1.70, 1.79, 1.75, 1.82, 2.02, 2.04, 2.06, 2.09, 2.17, 2.06, 2.15, 2.19,
               2.45, 2.49, 2.49, 2.36, 2.40, 2.49, 2.52, 2.45, 2.47, 2.22, 2.13, 2.17, 2.45, 2.53, 2.62,
               0.21, 0.30, 0.45, 0.55, 0.68, 0.80, 0.95, 1.10, 1.20, 1.45, 1.60, 1.72, 1.85, 0.20, 0.21,
               0.14, 0.19, 0.25, 0.31, 0.37, 0.42, 0.48, 0.54, 0.60, 0.66, 0.72, 0.78, 0.84, 0.90, 0.96,
               1.02, 1.08, 1.14, 1.20, 1.26, 1.32, 1.38, 1.44, 1.50, 1.56, 1.62, 1.68, 1.74, 1.80,
               1.22, 1.28, 1.36, 1.40, 1.46, 1.53, 1.58, 1.64, 1.68, 1.77, 1.80]
happy_low_y = [36, 36, 34, 30, 30, 30, 28, 25, 25, 23, 14, 10, 9, 6, 0,
               0, 17, 13, 11, 34, 27, 37, 36, 36, 34, 25, 17, 35, 34, 35,
               30, 28, 30, 30, 33, 33, 26, 25, 25, 25, 24, 20, 20, 18, 16,
               4, 23, 22, 12, 24, 26, 29, 26, 20, 17, 15, 16, 0, 0, 33,
               35, 34, 31, 24, 24, 22, 13, 5, 0, 46, 43, 41, 43, 43, 42,
               43, 44, 41, 44, 46, 44, 42, 44, 41, 43, 44, 41, 42, 39, 37,
               40, 44, 38, 42, 45, 39, 43, 41, 37, 44, 40, 42, 38, 45, 41,
               39, 43, 37, 42, 40, 44, 36, 41, 38, 43, 39, 40, 35, 42,
               31, 27, 24, 36, 21, 33, 28, 30, 26, 33, 19]

# Fitted curves (delay, fitted rating, half-width of confidence band)
angry_fit_x = [-0.44, -0.35, -0.26, -0.18, -0.10, -0.03, 0.05, 0.15, 0.25, 0.35, 0.45,
               0.55, 0.65, 0.75, 0.85, 0.95, 1.05, 1.15, 1.25, 1.35, 1.45, 1.55,
               1.65, 1.75, 1.85, 1.95, 2.05, 2.15, 2.25, 2.35, 2.45, 2.55, 2.66]
angry_fit_y = [23.5, 30.5, 37.6, 44.5, 49.5, 53.2, 57.0, 61.5, 65.2, 68.5, 71.2,
               73.0, 74.2, 74.8, 74.9, 74.6, 73.8, 72.6, 71.3, 69.7, 67.9, 66.2,
               64.5, 63.0, 61.7, 60.5, 59.7, 59.1, 58.9, 59.1, 59.8, 61.1, 63.0]
angry_fit_hw = [16, 11, 7.5, 5.5, 4.5, 4, 3.6, 3.3, 3.1, 3, 3,
                3, 3, 3, 3, 3, 3, 3, 3, 3, 3, 3,
                3, 3.1, 3.3, 3.5, 3.8, 4.3, 4.9, 5.5, 6.3, 7.3, 8.5]

happy_fit_x = [-0.446, -0.386, -0.30, -0.20, -0.129, -0.05, 0.015, 0.157, 0.30, 0.444, 0.558,
               0.70, 0.844, 0.987, 1.13, 1.273, 1.416, 1.56, 1.70, 1.845, 1.99, 2.13,
               2.275, 2.42, 2.56, 2.64]
happy_fit_y = [26.4, 34.5, 43.0, 50.0, 54.2, 57.7, 60.8, 66.3, 70.7, 74.0, 75.5,
               76.0, 75.5, 74.0, 71.8, 69.3, 66.3, 63.4, 60.8, 58.6, 57.0, 56.1,
               55.7, 56.1, 57.5, 59.0]
happy_fit_hw = [15, 11, 7, 5, 4.2, 3.7, 3.4, 3.1, 3, 3, 3,
                3, 3, 3, 3, 3, 3, 3, 3.1, 3.3, 3.6, 4.1,
                4.8, 5.6, 6.4, 7]

panel_titles = ["Angry Facial Expression", "Happy Facial Expression"]
x_ticks = [0, 1, 2]
y_ticks = [0, 25, 50, 75, 100]
x_title = "Temporal delay between participant and agent expression [s]"
y_title = ["Rating Responsiveness", "of the virtual agent [0-100]"]

# ---------------- layout / style ----------------
W, H, STRIP = 392, 531, 30
FONT = "Liberation Sans"
xscale = alt.Scale(domain=[-0.615, 2.765], nice=False, zero=False)
yscale = alt.Scale(domain=[-4.9, 111.8], nice=False, zero=False)

xaxis = alt.Axis(values=x_ticks, title=None, grid=False, domain=True, domainColor="black",
                 domainWidth=2, ticks=True, tickColor="#333333", tickWidth=1.5, tickSize=8,
                 labelFontSize=26, labelColor="#4d4d4d", labelFont=FONT, labelPadding=2,
                 labelFlush=False)


def points_df(columns, fill, lx, ly):
    rows = [(x, y) for x, ys in columns for y in ys]
    rows += [(x, y) for x, ys in fill for y in ys]
    rows += list(zip(lx, ly))
    return pd.DataFrame(rows, columns=["delay", "rating"])


def fit_df(fx, fy, fh):
    return pd.DataFrame({
        "delay": fx,
        "fit": fy,
        "lo": [a - b for a, b in zip(fy, fh)],
        "hi": [a + b for a, b in zip(fy, fh)],
    })


one = pd.DataFrame({"k": [0]})


def panel(pts, fit, color, title, left):
    if left:
        yaxis = alt.Axis(values=y_ticks, title=None, grid=False, domain=False, ticks=True,
                         tickColor="#333333", tickWidth=1.5, tickSize=8, labelFontSize=26,
                         labelColor="#4d4d4d", labelFont=FONT, labelPadding=3)
    else:
        yaxis = None
    X = lambda f: alt.X(f, type="quantitative", scale=xscale, axis=xaxis)
    Y = lambda f: alt.Y(f, type="quantitative", scale=yscale, axis=yaxis)

    layers = []
    layers.append(alt.Chart(pts).mark_circle(size=68, color="black", opacity=0.35)
                  .encode(x=X("delay"), y=Y("rating")))
    layers.append(alt.Chart(fit).mark_area(color=color, opacity=0.3, interpolate="monotone")
                  .encode(x=X("delay"), y=Y("lo"), y2="hi"))
    layers.append(alt.Chart(fit).mark_line(color=color, strokeWidth=6, interpolate="monotone")
                  .encode(x=X("delay"), y=Y("fit")))
    layers.append(alt.Chart(one).mark_rect(color="#d9d9d9")
                  .encode(x=alt.value(0), x2=alt.value(W), y=alt.value(0), y2=alt.value(STRIP)))
    layers.append(alt.Chart(one).mark_text(fontSize=27, font=FONT, color="#1a1a1a",
                                           align="center", baseline="alphabetic")
                  .encode(x=alt.value(W / 2), y=alt.value(21), text=alt.value(title)))
    if left:
        layers.append(alt.Chart(one).mark_rule(color="black", strokeWidth=2)
                      .encode(x=alt.value(0), y=alt.value(STRIP), y2=alt.value(H)))
        layers.append(alt.Chart(one).mark_text(fontSize=28.5, font=FONT, color="black",
                                               align="center", baseline="alphabetic", angle=270)
                      .encode(x=alt.value(-92), y=alt.value(274), text=alt.value(y_title[0])))
        layers.append(alt.Chart(one).mark_text(fontSize=26.5, font=FONT, color="black",
                                               align="center", baseline="alphabetic", angle=270)
                      .encode(x=alt.value(-60), y=alt.value(266), text=alt.value(y_title[1])))
        layers.append(alt.Chart(one).mark_text(fontSize=28, font=FONT, color="black",
                                               align="center", baseline="alphabetic")
                      .encode(x=alt.value(405), y=alt.value(590), text=alt.value(x_title)))
    return alt.layer(*layers).properties(width=W, height=H)


left = panel(points_df(angry_columns, angry_fill, angry_low_x, angry_low_y),
             fit_df(angry_fit_x, angry_fit_y, angry_fit_hw), "#0000ff", panel_titles[0], True)
right = panel(points_df(happy_columns, happy_fill, happy_low_x, happy_low_y),
              fit_df(happy_fit_x, happy_fit_y, happy_fit_hw), "#ff8c00", panel_titles[1], False)

chart = (alt.hconcat(left, right, spacing=18, bounds="flush")
         .properties(padding={"left": 2, "top": 0, "right": 0, "bottom": 0}, background="white")
         .configure_view(stroke=None))

chart.save("out.html", embed_options={"renderer": "svg", "actions": False})
